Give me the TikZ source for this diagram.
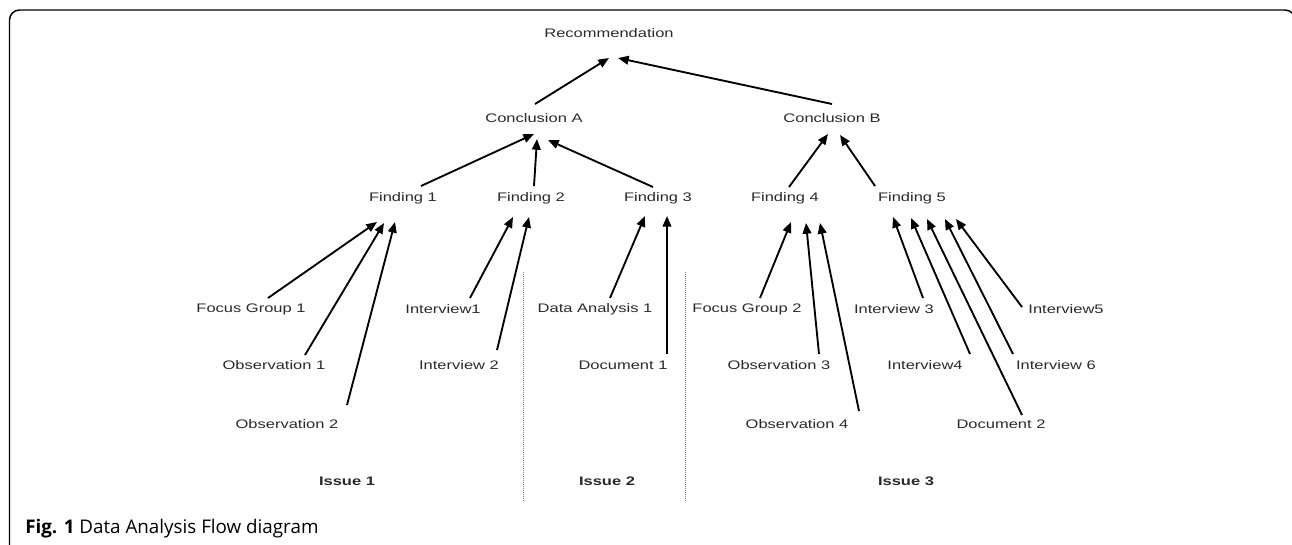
\documentclass[tikz,border=0pt]{standalone}
\usepackage{fontspec}
\usetikzlibrary{arrows.meta,calc}
\newfontfamily\diagfont[FakeStretch=1.33]{Liberation Sans}
\newfontfamily\capfont{Open Sans}
\definecolor{txt}{HTML}{2A2A2A}
\begin{document}
\begin{tikzpicture}[x=0.75pt,y=-0.75pt,
  lbl/.style={inner sep=0pt,text=txt,font=\fontsize{9.3pt}{10pt}\diagfont},
  issue/.style={lbl,font=\fontsize{9.3pt}{10pt}\diagfont\bfseries},
  arr/.style={line width=1.4pt,-{Triangle[length=8pt,width=6.5pt]}},
  sep/.style={gray,line width=0.5pt,densely dotted}]
\useasboundingbox (0,0) rectangle (1292,544);
\clip (0,0) rectangle (1292,544);
% frame
\draw[line width=1.1pt,rounded corners=7.5pt] (9.5,560) -- (9.5,10) -- (1295,10) -- (1295,560);
% nodes
\node[lbl] (rec) at (609,33) {Recommendation};
\node[lbl] (ca) at (534,118) {Conclusion A};
\node[lbl] (cb) at (832,118) {Conclusion B};
\node[lbl] (f1) at (403,198) {Finding 1};
\node[lbl] (f2) at (531,198) {Finding 2};
\node[lbl] (f3) at (658,198) {Finding 3};
\node[lbl] (f4) at (785,198) {Finding 4};
\node[lbl] (f5) at (912,198) {Finding 5};
\node[lbl] (fg1) at (251,309) {Focus Group 1};
\node[lbl] (ob1) at (274,365) {Observation 1};
\node[lbl] (ob2) at (287,424) {Observation 2};
\node[lbl] (in1) at (443,309) {Interview1};
\node[lbl] (in2) at (459,365) {Interview 2};
\node[lbl] (da1) at (595,309) {Data Analysis 1};
\node[lbl] (do1) at (623,365) {Document 1};
\node[lbl] (fg2) at (747,309) {Focus Group 2};
\node[lbl] (ob3) at (779,365) {Observation 3};
\node[lbl] (ob4) at (797,424) {Observation 4};
\node[lbl] (in3) at (894,309) {Interview 3};
\node[lbl] (in4) at (925,365) {Interview4};
\node[lbl] (do2) at (1001,424) {Document 2};
\node[lbl] (in6) at (1056,365) {Interview 6};
\node[lbl] (in5) at (1066,309) {Interview5};
\node[issue] (is1) at (347,481) {Issue 1};
\node[issue] (is2) at (607,481) {Issue 2};
\node[issue] (is3) at (906,481) {Issue 3};
\node[anchor=west,inner sep=0pt,font=\fontsize{14.1pt}{16pt}\capfont] (cap) at (25,529) {\textbf{Fig. 1} Data Analysis Flow diagram};
% separators
\coordinate (s1a) at (523,272); \coordinate (s1b) at (523,501);
\coordinate (s2a) at (685,272); \coordinate (s2b) at (685,501);
\draw[sep] (s1a) -- (s1b);
\draw[sep] (s2a) -- (s2b);
% arrows top
\draw[arr] ($(ca)+(1,-14)$) -- ($(rec)+(0,25)$);
\draw[arr] ($(cb)+(0,-14)$) -- ($(rec)+(9,25)$);
\draw[arr] ($(f1)+(18,-12)$) -- ($(ca)+(0,16)$);
\draw[arr] ($(f2)+(3,-12)$) -- ($(ca)+(3,21)$);
\draw[arr] ($(f3)+(-5,-11)$) -- ($(ca)+(14,22)$);
\draw[arr] ($(f4)+(4,-11)$) -- ($(cb)+(-4,16)$);
\draw[arr] ($(f5)+(-37,-12)$) -- ($(cb)+(8,17)$);
% arrows bottom
\draw[arr] ($(fg1)+(17,-11)$) -- ($(f1)+(-26,24)$);
\draw[arr] ($(ob1)+(31,-10)$) -- ($(f1)+(-19,25)$);
\draw[arr] ($(ob2)+(60,-19)$) -- ($(f1)+(-8,24)$);
\draw[arr] ($(in1)+(27,-11)$) -- ($(f2)+(-18,19)$);
\draw[arr] ($(in2)+(38,-15)$) -- ($(f2)+(-2,19)$);
\draw[arr] ($(da1)+(15,-11)$) -- ($(f3)+(-13,18)$);
\draw[arr] ($(do1)+(44,-11)$) -- ($(f3)+(9,18)$);
\draw[arr] ($(fg2)+(13,-11)$) -- ($(f4)+(6,24)$);
\draw[arr] ($(ob3)+(40,-11)$) -- ($(f4)+(21,25)$);
\draw[arr] ($(ob4)+(62,-13)$) -- ($(f4)+(35,25)$);
\draw[arr] ($(in3)+(29,-11)$) -- ($(f5)+(-19,19)$);
\draw[arr] ($(in4)+(45,-11)$) -- ($(f5)+(-1,20)$);
\draw[arr] ($(do2)+(21,-9)$) -- ($(f5)+(15,21)$);
\draw[arr] ($(in6)+(-43,-11)$) -- ($(f5)+(33,21)$);
\draw[arr] ($(in5)+(-44,-2)$) -- ($(f5)+(44,21)$);
\end{tikzpicture}
\end{document}
